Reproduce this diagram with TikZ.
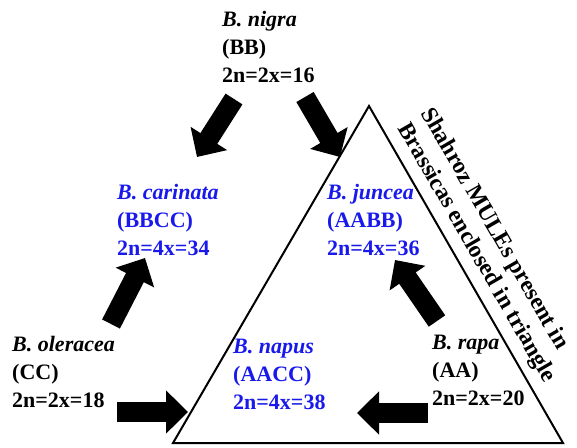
\documentclass[tikz,border=0pt]{standalone}
\usepackage{fontspec}
\setmainfont{Liberation Serif}
\usetikzlibrary{arrows.meta}
\definecolor{spblue}{RGB}{25,25,235}
\tikzset{
  species/.style={anchor=base west, inner sep=0pt, align=left,
    font=\fontsize{22}{28}\selectfont\bfseries},
  hybrid/.style={species, text=spblue},
  blockarrow/.style={line width=20pt, -{Triangle[length=22pt,width=42pt]}},
  rottext/.style={rotate=-60, inner sep=0pt, font=\fontsize{23.5}{28}\selectfont\bfseries}
}
\begin{document}
\begin{tikzpicture}[x=1pt,y=-1pt]
\useasboundingbox (0,0) rectangle (577,447);
% triangle
\coordinate (apex) at (369,106);
\coordinate (bl) at (173,443);
\coordinate (br) at (563,443);
\draw[line width=2pt, line join=miter] (apex) -- (bl) -- (br) -- cycle;
% species (anchor = baseline of the last line)
\node[species] (nigra) at (222,82) {\textit{B. nigra}\\(BB)\\2n=2x=16};
\node[hybrid] (carinata) at (117,255) {\textit{B. carinata}\\(BBCC)\\2n=4x=34};
\node[hybrid] (juncea) at (327,255) {\textit{B. juncea}\\(AABB)\\2n=4x=36};
\node[species] (oleracea) at (12,407) {\textit{B. oleracea}\\(CC)\\2n=2x=18};
\node[hybrid] (napus) at (233,409) {\textit{B. napus}\\(AACC)\\2n=4x=38};
\node[species] (rapa) at (432,405) {\textit{B. rapa}\\(AA)\\2n=2x=20};
% rotated caption
\node[rottext] (cap1) at (494,229) {Shahroz MULEs present in};
\node[rottext] (cap2) at (476,253) {Brassicas enclosed in triangle};
% arrow ends
\coordinate (a1s) at (234,99);  \coordinate (a1e) at (197,157);
\coordinate (a2s) at (305,97);  \coordinate (a2e) at (340,157);
\coordinate (a3s) at (111,324); \coordinate (a3e) at (145,258);
\coordinate (a4s) at (117,412); \coordinate (a4e) at (188,412);
\coordinate (a5s) at (437,321); \coordinate (a5e) at (395,260);
\coordinate (a6s) at (428,413); \coordinate (a6e) at (357,413);
\draw[blockarrow] (a1s) -- (a1e);
\draw[blockarrow] (a2s) -- (a2e);
\draw[blockarrow] (a3s) -- (a3e);
\draw[blockarrow] (a4s) -- (a4e);
\draw[blockarrow] (a5s) -- (a5e);
\draw[blockarrow] (a6s) -- (a6e);
\end{tikzpicture}
\end{document}
